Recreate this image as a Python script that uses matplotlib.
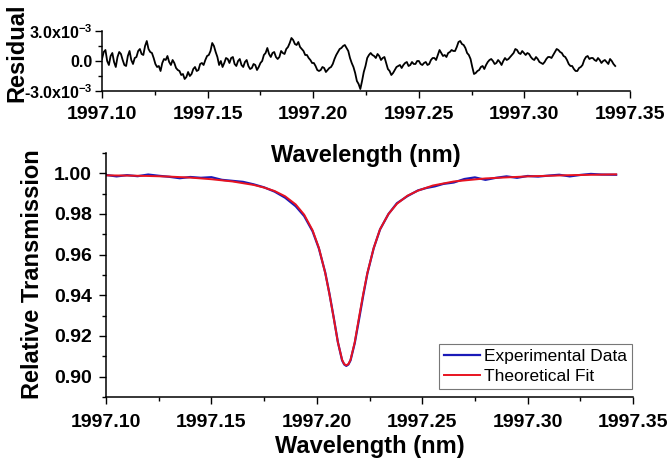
import numpy as np
import matplotlib
matplotlib.use("Agg")
import matplotlib.pyplot as plt
from matplotlib.ticker import MultipleLocator, FormatStrFormatter, FixedLocator

plt.rcParams["font.family"] = ["Liberation Sans", "DejaVu Sans"]
plt.rcParams["mathtext.fontset"] = "custom"
plt.rcParams["mathtext.rm"] = "Liberation Sans:bold"
plt.rcParams["mathtext.bf"] = "Liberation Sans:bold"

# residual (units of 1e-3), evenly sampled from 1997.100 to 1997.343 nm
residual_e3 = [
    0.2, 0.9, 1.1, 0.0, -0.4, 0.5, 0.8, -0.1, -0.6, 0.4, 0.9, 0.7, 0.1, -0.4,
    -0.5, 0.5, 1.0, 0.1, -0.3, 0.3, 0.4, 1.0, 1.2, 0.7, 0.6, 1.5, 2.0, 1.2,
    0.9, 0.8, 0.3, -0.3, -0.6, -0.5, -1.0, -0.2, 0.2, 0.1, 0.5, -0.1, -0.4,
    0.1, -0.2, -0.7, -0.9, -1.0, -1.4, -1.3, -1.8, -1.6, -1.1, -1.5, -1.3,
    -0.8, -0.6, -1.0, -0.9, -0.3, -0.2, -0.4, 0.1, 0.5, 0.6, 1.0, 1.8, 1.5,
    0.9, 0.4, -0.4, 0.0, -0.6, -0.2, 0.3, 0.2, -0.2, 0.3, 0.4, -0.3, -0.5,
    0.0, 0.2, -0.4, -0.6, -0.1, 0.1, -0.5, -0.8, -0.7, -0.3, -0.4, -0.9,
    -0.6, -0.2, 0.0, 0.6, 0.8, 1.3, 0.7, 0.4, 0.8, 0.9, 0.4, 0.2, 0.4, 1.0,
    0.8, 0.7, 1.2, 1.4, 1.8, 2.3, 2.1, 1.7, 1.6, 1.9, 1.4, 1.2, 1.0, 0.6,
    0.6, 0.3, 0.1, -0.2, -0.2, -0.5, -0.9, -1.0, -0.9, -0.6, -0.7, -1.1,
    -0.9, -0.7, -0.6, -0.3, 0.2, 0.6, 0.9, 1.2, 1.3, 1.5, 1.6, 1.3, 1.0,
    0.3, -0.2, -0.6, -1.2, -2.0, -2.3, -2.8, -2.0, -1.1, -0.5, 0.3, 0.6,
    0.8, 0.6, 0.5, 0.3, 0.7, 0.5, 0.1, 0.3, 0.4, -0.2, -0.8, -1.0, -1.4,
    -1.2, -0.9, -0.6, -0.5, -0.4, -0.7, -0.4, -0.2, -0.1, -0.5, -0.4, -0.1,
    -0.3, -0.3, 0.0, 0.0, -0.3, -0.4, -0.2, -0.1, -0.4, -0.3, 0.1, 0.3, 0.3,
    0.1, 0.6, 1.1, 0.8, 0.5, 0.6, 0.4, 0.8, 0.9, 1.1, 1.0, 1.0, 1.4, 1.9,
    2.0, 1.7, 1.6, 1.3, 0.8, 0.6, 0.2, -0.6, -1.3, -1.2, -1.0, -0.9, -0.6,
    -0.5, -0.8, -0.4, -0.1, 0.1, 0.2, 0.0, -0.3, -0.2, 0.1, -0.1, -0.4, 0.0,
    0.3, 0.1, 0.2, 0.4, 0.6, 0.8, 1.2, 1.1, 0.8, 0.7, 1.0, 0.8, 0.6, 0.8,
    0.7, 0.4, 0.2, 0.1, 0.4, 0.2, -0.1, -0.2, -0.3, -0.1, 0.2, 0.4, 0.4,
    0.3, 0.6, 0.9, 1.2, 1.1, 0.9, 0.8, 0.5, 0.4, 0.1, -0.3, -0.5, -0.5,
    -0.8, -1.0, -1.0, -0.7, -0.6, -0.4, 0.1, 0.4, 0.5, 0.2, 0.3, 0.3, 0.1,
    0.0, 0.3, 0.1, -0.2, 0.0, 0.1, -0.1, -0.3, 0.2, 0.0, -0.3, -0.5,
]
residual_wl = np.linspace(1997.100, 1997.343, len(residual_e3))

exp_wl = [
    1997.100, 1997.105, 1997.110, 1997.115, 1997.120, 1997.125, 1997.130,
    1997.135, 1997.140, 1997.145, 1997.150, 1997.155, 1997.160, 1997.165,
    1997.170, 1997.175, 1997.180, 1997.185, 1997.190, 1997.194, 1997.198,
    1997.201, 1997.204, 1997.206, 1997.208, 1997.210, 1997.212, 1997.213,
    1997.214, 1997.215, 1997.216, 1997.218, 1997.220, 1997.222, 1997.224,
    1997.227, 1997.230, 1997.234, 1997.238, 1997.243, 1997.248, 1997.252,
    1997.256, 1997.260, 1997.265, 1997.270, 1997.275, 1997.280, 1997.285,
    1997.290, 1997.295, 1997.300, 1997.305, 1997.310, 1997.315, 1997.320,
    1997.325, 1997.330, 1997.335, 1997.342,
]
exp_val = [
    0.9992, 0.9985, 0.9991, 0.9986, 0.9994, 0.9988, 0.9983,
    0.9976, 0.9982, 0.9978, 0.9981, 0.9968, 0.9963, 0.9958,
    0.9946, 0.9931, 0.9910, 0.9880, 0.9838, 0.9790, 0.9715,
    0.9630, 0.9512, 0.9408, 0.9292, 0.9170, 0.9080, 0.9060,
    0.9053, 0.9060, 0.9080, 0.9165, 0.9280, 0.9398, 0.9508,
    0.9632, 0.9724, 0.9800, 0.9853, 0.9888, 0.9916, 0.9928,
    0.9936, 0.9948, 0.9955, 0.9972, 0.9980, 0.9968, 0.9978,
    0.9985, 0.9978, 0.9987, 0.9984, 0.9989, 0.9993, 0.9985,
    0.9992, 0.9997, 0.9994, 0.9993,
]

fit_wl = [
    1997.100, 1997.110, 1997.120, 1997.130, 1997.140, 1997.150, 1997.160,
    1997.170, 1997.175, 1997.180, 1997.185, 1997.190, 1997.194, 1997.198,
    1997.201, 1997.204, 1997.206, 1997.208, 1997.210, 1997.212, 1997.213,
    1997.214, 1997.215, 1997.216, 1997.218, 1997.220, 1997.222, 1997.224,
    1997.227, 1997.230, 1997.234, 1997.238, 1997.243, 1997.248, 1997.255,
    1997.265, 1997.280, 1997.300, 1997.320, 1997.342,
]
fit_val = [
    0.9990, 0.9989, 0.9987, 0.9984, 0.9979, 0.9971, 0.9960,
    0.9943, 0.9930, 0.9913, 0.9887, 0.9847, 0.9797, 0.9720,
    0.9633, 0.9510, 0.9406, 0.9290, 0.9169, 0.9083, 0.9062,
    0.9056, 0.9062, 0.9083, 0.9169, 0.9290, 0.9406, 0.9510,
    0.9633, 0.9725, 0.9800, 0.9850, 0.9890, 0.9915, 0.9940,
    0.9960, 0.9975, 0.9985, 0.9991, 0.9995,
]

fig = plt.figure(figsize=(6.69, 4.62), dpi=100)
ax = fig.add_axes([106 / 669, 1 - 397 / 462, 527 / 669, 244 / 462])
ax_r = fig.add_axes([102 / 669, 1 - 91 / 462, 528 / 669, 60 / 462])
ax.patch.set_alpha(0)
ax_r.patch.set_alpha(0)


def style_axes(a):
    for side in ["top", "right"]:
        a.spines[side].set_visible(False)
    for side in ["left", "bottom"]:
        a.spines[side].set_linewidth(1.1)
    a.tick_params(which="major", direction="out", length=5, width=1.0, pad=5)
    a.tick_params(which="minor", direction="out", length=3, width=1.0)
    a.set_xlim(1997.10, 1997.35)
    a.xaxis.set_major_locator(MultipleLocator(0.05))
    a.xaxis.set_minor_locator(MultipleLocator(0.025))
    a.xaxis.set_major_formatter(FormatStrFormatter("%.2f"))
    for lab in a.get_xticklabels() + a.get_yticklabels():
        lab.set_fontsize(14)
        lab.set_fontweight("bold")


# residual panel
ax_r.plot(residual_wl, np.array(residual_e3) * 1e-3, color="black", lw=1.3)
ax_r.set_ylim(-3e-3, 3e-3)
ax_r.yaxis.set_major_locator(FixedLocator([-3e-3, 0, 3e-3]))
ax_r.yaxis.set_minor_locator(FixedLocator([-1.5e-3, 1.5e-3]))
style_axes(ax_r)
ax_r.set_yticklabels([r"-3.0x10$^{\mathbf{-3}}$", "0.0", r"3.0x10$^{\mathbf{-3}}$"],
                     fontsize=11.5, fontweight="bold")
ax_r.tick_params(axis="y", pad=2)
ax_r.tick_params(axis="x", pad=6)
ax_r.set_xlabel("Wavelength (nm)", fontsize=17, fontweight="bold", labelpad=15)

# transmission panel
ax.plot(exp_wl, exp_val, color="#1a1ab8", lw=1.6, label="Experimental Data")
ax.plot(fit_wl, fit_val, color="#e8131f", lw=1.4, label="Theoretical Fit")
ax.set_ylim(0.89, 1.01)
ax.yaxis.set_major_locator(MultipleLocator(0.02))
ax.yaxis.set_minor_locator(MultipleLocator(0.01))
ax.yaxis.set_major_formatter(FormatStrFormatter("%.2f"))
style_axes(ax)
ax.tick_params(axis="x", pad=7)
ax.set_xlabel("Wavelength (nm)", fontsize=17, fontweight="bold", labelpad=3)

leg = ax.legend(loc="lower right", bbox_to_anchor=(0.998, 0.033), borderaxespad=0,
                fontsize=12.5, fancybox=False, framealpha=1, edgecolor="#777777",
                handlelength=2.1, handletextpad=0.2, borderpad=0.3, labelspacing=0.25)
leg.get_frame().set_linewidth(0.8)

fig.text(17 / 669, 1 - 53 / 462, "Residual", rotation=90, ha="center", va="center",
         fontsize=17, fontweight="bold")
fig.text(33 / 669, 1 - 274 / 462, "Relative Transmission", rotation=90, ha="center",
         va="center", fontsize=17, fontweight="bold")

fig.savefig("out.png", dpi=100, facecolor="white")
